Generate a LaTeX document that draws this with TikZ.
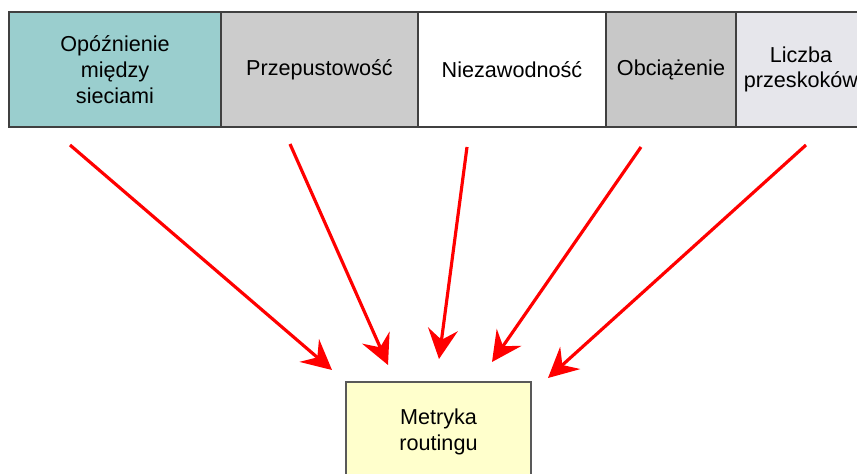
\documentclass[tikz,border=0pt]{standalone}
\usepackage{fontspec}
\setmainfont{Liberation Sans}
\usetikzlibrary{positioning, arrows.meta}

\begin{document}
\begin{tikzpicture}[
    font=\fontsize{12.3pt}{14.6pt}\selectfont,
    cell/.style={draw=black!75, line width=0.85pt, rectangle, outer sep=0pt,
        minimum height=2.3cm, align=center, inner sep=0pt},
    pull/.style={draw=red, line width=1.8pt,
        -{Stealth[length=17pt, width=17pt, inset=6pt]}}
]

    % Define colors
    \definecolor{delaycolor}{RGB}{154,206,206}
    \definecolor{bwcolor}{RGB}{204,204,204}
    \definecolor{loadcolor}{RGB}{200,200,200}
    \definecolor{hopcolor}{RGB}{230,230,235}
    \definecolor{metriccolor}{RGB}{255,255,204}

    % Frame of the picture (the last box runs off the right edge)
    \useasboundingbox (0,0) rectangle (17.14,9.46);
    \clip (0,0) rectangle (17.14,9.46);

    % ===== TOP ROW =====
    \node[cell, fill=delaycolor, minimum width=4.24cm, anchor=north west] (delay) at (0.18,9.22) {Opóźnienie\\między\\sieciami};
    \node[cell, fill=bwcolor, minimum width=3.94cm, right=0pt of delay] (bandwidth) {Przepustowość};
    \node[cell, fill=white, minimum width=3.76cm, right=0pt of bandwidth] (reliab) {Niezawodność};
    \node[cell, fill=loadcolor, minimum width=2.60cm, right=0pt of reliab] (load) {Obciążenie};
    \node[cell, fill=hopcolor, minimum width=2.60cm, right=0pt of load] (hops) {Liczba\\przeskoków};

    % ===== RESULT =====
    \node[cell, draw=black!65, fill=metriccolor, minimum width=3.70cm, minimum height=2.0cm, anchor=north] (metric) at (8.77,1.82) {Metryka\\routingu};

    % Arrow ends
    \coordinate (d1) at (1.40,6.56);
    \coordinate (d2) at (5.80,6.58);
    \coordinate (d3) at (9.34,6.52);
    \coordinate (d4) at (12.82,6.52);
    \coordinate (d5) at (16.12,6.56);
    \coordinate (m1) at (6.64,2.06);
    \coordinate (m2) at (7.76,2.16);
    \coordinate (m3) at (8.78,2.28);
    \coordinate (m4) at (9.84,2.22);
    \coordinate (m5) at (10.96,1.90);

    % ===== ARROWS =====
    \foreach \i in {1,...,5} {
        \draw[pull] (d\i) -- (m\i);
    }

\end{tikzpicture}
\end{document}
